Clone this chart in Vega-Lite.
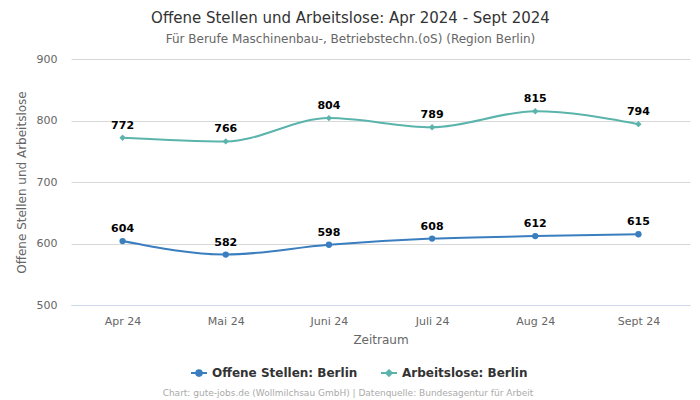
{
  "$schema": "https://vega.github.io/schema/vega-lite/v6.json",
  "width": 619,
  "height": 246,
  "autosize": {"type": "none"},
  "padding": {"left": 71, "top": 59, "right": 10, "bottom": 95},
  "background": "white",
  "config": {
    "font": "DejaVu Sans",
    "view": {"stroke": null}
  },
  "title": {
    "text": "Offene Stellen und Arbeitslose: Apr 2024 - Sept 2024",
    "subtitle": "Für Berufe Maschinenbau-, Betriebstechn.(oS) (Region Berlin)",
    "fontSize": 15,
    "fontWeight": "normal",
    "color": "#333333",
    "subtitleFontSize": 12,
    "subtitleColor": "#666666",
    "subtitlePadding": 8,
    "anchor": "middle",
    "dx": -30,
    "offset": 8
  },
  "data": {
    "values": [
      {"monat": "Apr 24", "serie": "Offene Stellen: Berlin", "wert": 604},
      {"monat": "Mai 24", "serie": "Offene Stellen: Berlin", "wert": 582},
      {"monat": "Juni 24", "serie": "Offene Stellen: Berlin", "wert": 598},
      {"monat": "Juli 24", "serie": "Offene Stellen: Berlin", "wert": 608},
      {"monat": "Aug 24", "serie": "Offene Stellen: Berlin", "wert": 612},
      {"monat": "Sept 24", "serie": "Offene Stellen: Berlin", "wert": 615},
      {"monat": "Apr 24", "serie": "Arbeitslose: Berlin", "wert": 772},
      {"monat": "Mai 24", "serie": "Arbeitslose: Berlin", "wert": 766},
      {"monat": "Juni 24", "serie": "Arbeitslose: Berlin", "wert": 804},
      {"monat": "Juli 24", "serie": "Arbeitslose: Berlin", "wert": 789},
      {"monat": "Aug 24", "serie": "Arbeitslose: Berlin", "wert": 815},
      {"monat": "Sept 24", "serie": "Arbeitslose: Berlin", "wert": 794}
    ]
  },
  "encoding": {
    "x": {
      "field": "monat",
      "type": "ordinal",
      "sort": ["Apr 24", "Mai 24", "Juni 24", "Juli 24", "Aug 24", "Sept 24"],
      "scale": {"type": "point", "padding": 0.5},
      "axis": {
        "title": "Zeitraum",
        "titleFontSize": 12,
        "titleFontWeight": "normal",
        "titleColor": "#666666",
        "titlePadding": 8,
        "labelFontSize": 11,
        "labelColor": "#666666",
        "labelAngle": 0,
        "labelPadding": 10,
        "ticks": false,
        "domainColor": "#ccd6eb",
        "grid": false
      }
    },
    "y": {
      "field": "wert",
      "type": "quantitative",
      "scale": {"domain": [500, 900], "nice": false, "zero": false},
      "axis": {
        "title": "Offene Stellen und Arbeitslose",
        "titleFontSize": 12,
        "titleFontWeight": "normal",
        "titleColor": "#666666",
        "titlePadding": 8,
        "labelFontSize": 11,
        "labelColor": "#666666",
        "labelPadding": 14,
        "values": [500, 600, 700, 800, 900],
        "ticks": false,
        "domain": false,
        "gridColor": "#d8d8d8"
      }
    },
    "color": {
      "field": "serie",
      "type": "nominal",
      "sort": ["Offene Stellen: Berlin", "Arbeitslose: Berlin"],
      "scale": {"domain": ["Offene Stellen: Berlin", "Arbeitslose: Berlin"], "range": ["#3a7ebf", "#5bb4ac"]},
      "legend": {
        "orient": "none",
        "legendX": 92,
        "legendY": 305,
        "direction": "horizontal",
        "title": "Chart: gute-jobs.de (Wollmilchsau GmbH) | Datenquelle: Bundesagentur für Arbeit",
        "titleOrient": "bottom",
        "titleFontSize": 9,
        "titleFontWeight": "normal",
        "titleColor": "#aaaaaa",
        "titleAnchor": "middle",
        "titlePadding": 9,
        "titleLimit": 600,
        "labelFontSize": 12,
        "labelFontWeight": "bold",
        "labelColor": "#333333",
        "labelLimit": 300,
        "labelOffset": 4,
        "symbolSize": 256,
        "symbolStrokeWidth": 2,
        "symbolOffset": 22,
        "columnPadding": 0,
        "encode": {
          "symbols": {
            "update": {
              "shape": {"signal": "datum.value === 'Offene Stellen: Berlin' ? 'M-1,0L-0.35,0M0.35,0L1,0M-0.35,0A0.35,0.35 0 1,0 0.35,0A0.35,0.35 0 1,0 -0.35,0Z' : 'M-1,0L-0.35,0M0.35,0L1,0M0,-0.35L0.35,0L0,0.35L-0.35,0Z'"},
              "stroke": {"signal": "datum.value === 'Offene Stellen: Berlin' ? '#3a7ebf' : '#5bb4ac'"},
              "fill": {"signal": "datum.value === 'Offene Stellen: Berlin' ? '#3a7ebf' : '#5bb4ac'"},
              "strokeWidth": {"value": 2},
              "opacity": {"value": 1}
            }
          }
        }
      }
    }
  },
  "layer": [
    {
      "mark": {"type": "line", "interpolate": "monotone", "strokeWidth": 2}
    },
    {
      "transform": [{"filter": "datum.serie === 'Offene Stellen: Berlin'"}],
      "mark": {"type": "point", "filled": true, "size": 40, "opacity": 1, "shape": "circle"}
    },
    {
      "transform": [{"filter": "datum.serie === 'Arbeitslose: Berlin'"}],
      "mark": {"type": "point", "filled": true, "size": 40, "opacity": 1, "shape": "diamond"}
    },
    {
      "mark": {"type": "text", "dy": -12, "fontSize": 11, "fontWeight": "bold", "color": "black"},
      "encoding": {
        "text": {"field": "wert", "type": "quantitative"},
        "color": {"value": "black"}
      }
    }
  ]
}
